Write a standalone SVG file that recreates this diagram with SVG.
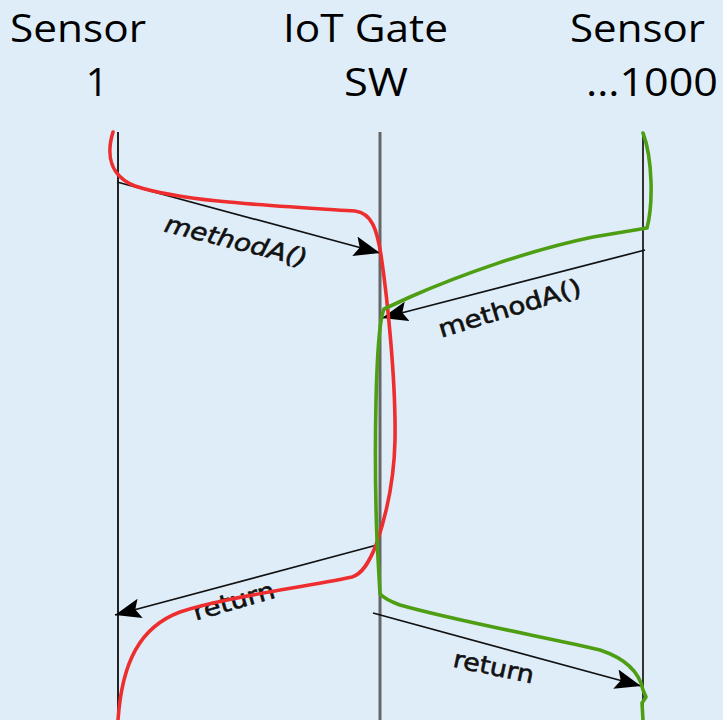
<svg xmlns="http://www.w3.org/2000/svg" width="723" height="720" viewBox="0 0 723 720">
<defs>
<style>
.hdr{font-family:"Open Sans","Liberation Sans",sans-serif;font-size:39px;fill:#000}
.lbl{font-family:"DejaVu Sans","Liberation Sans",sans-serif;font-size:24px;fill:#111;stroke:#111;stroke-width:0.6}
.life{fill:none}
.msg{stroke:#111;stroke-width:1.7;fill:none;marker-end:url(#ah)}
.red{stroke:#EE2E2E;stroke-width:3.6;fill:none;stroke-linejoin:round;stroke-linecap:round}
.green{stroke:#4E9E14;stroke-width:3.6;fill:none;stroke-linejoin:round;stroke-linecap:round}
</style>
<marker id="ah" markerWidth="28" markerHeight="22" refX="26" refY="10" orient="auto" markerUnits="userSpaceOnUse">
<path d="M0,0 L26,10 L0,20 L5,10 Z" fill="#000"/>
</marker>
</defs>
<rect width="723" height="720" fill="#DFEDF8"/>
<g id="sensor1">
<text class="hdr" x="10" y="42" textLength="136" lengthAdjust="spacingAndGlyphs">Sensor</text>
<text class="hdr" x="97" y="96" text-anchor="middle">1</text>
<line class="life" x1="118" y1="132" x2="118" y2="720" stroke="#222" stroke-width="2"/>
</g>
<g id="gateway">
<text class="hdr" x="283" y="42" textLength="165" lengthAdjust="spacingAndGlyphs">IoT Gate</text>
<text class="hdr" x="344" y="96" textLength="64" lengthAdjust="spacingAndGlyphs">SW</text>
<line class="life" x1="380" y1="132" x2="380" y2="720" stroke="#666" stroke-width="3"/>
</g>
<g id="sensor1000">
<text class="hdr" x="570" y="42" textLength="135" lengthAdjust="spacingAndGlyphs">Sensor</text>
<text class="hdr" x="586" y="96" textLength="132" lengthAdjust="spacingAndGlyphs">…1000</text>
<line class="life" x1="643" y1="132" x2="643" y2="720" stroke="#333" stroke-width="2"/>
</g>
<g id="connectors">
<line class="msg" x1="117" y1="182" x2="380" y2="253"/>
<line class="msg" x1="645" y1="250" x2="382" y2="318"/>
<line class="msg" x1="377" y1="545" x2="115" y2="615"/>
<line class="msg" x1="373" y1="613" x2="641" y2="686"/>
<text class="lbl" font-style="italic" text-anchor="middle" transform="translate(234,249) rotate(14)" textLength="146" lengthAdjust="spacingAndGlyphs">methodA()</text>
<text class="lbl" text-anchor="middle" transform="translate(512,316) rotate(-17)" textLength="148" lengthAdjust="spacingAndGlyphs">methodA()</text>
<text class="lbl" text-anchor="middle" transform="translate(236,609) rotate(-16)" textLength="84" lengthAdjust="spacingAndGlyphs">return</text>
<text class="lbl" text-anchor="middle" transform="translate(492,675) rotate(12)" textLength="82" lengthAdjust="spacingAndGlyphs">return</text>
</g>
<g id="trace-sensor1">
<path class="red" d="M113,132 C106,155 110,176 135,186 C180,201 260,205 355,211 C372,213 377,230 381,255 C387,295 396,380 395,440 C394,490 383,525 376,545 C369,563 362,574 352,577 C300,588 220,598 180,612 C140,627 122,662 118,720"/>
</g>
<g id="trace-sensor1000">
<path class="green" d="M643,133 C653,160 653,205 647,228 L593,237 C530,250 460,275 410,297 L384,309 C375,330 374,460 377,540 L380,594 C386,600 392,602 400,605 C460,622 560,640 600,650 C630,660 640,675 643,690 L646,697 L642,703 L643,720"/>
</g>
</svg>
